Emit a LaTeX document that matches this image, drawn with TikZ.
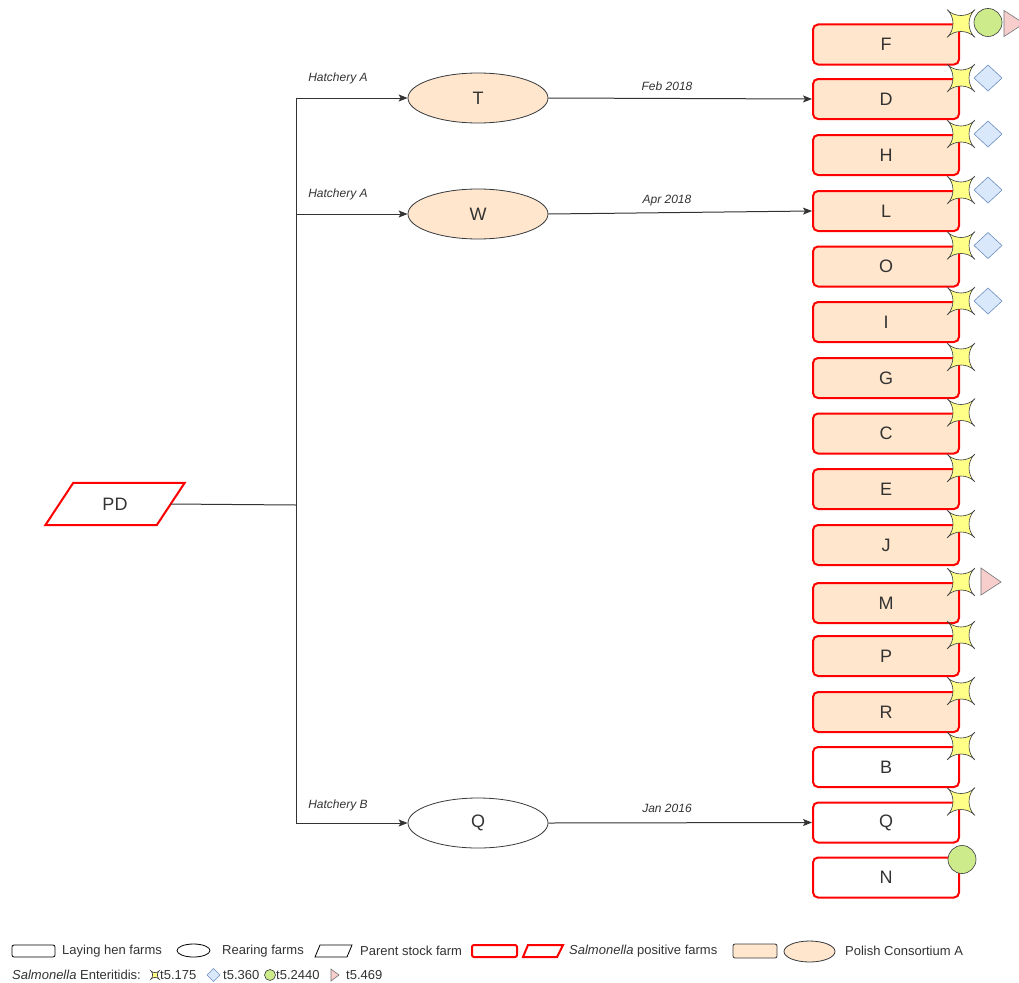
\documentclass[tikz,border=0pt]{standalone}
\usepackage{fontspec}
\setmainfont{Liberation Sans}
\usetikzlibrary{arrows.meta,calc,shapes.geometric}
\definecolor{txt}{HTML}{333333}
\definecolor{peach}{HTML}{FFE6CC}
\definecolor{edgec}{HTML}{36393D}
\definecolor{starY}{HTML}{FFFF88}
\definecolor{circG}{HTML}{CDEB8B}
\definecolor{diaB}{HTML}{DAE8FC}
\definecolor{diaS}{HTML}{6C8EBF}
\definecolor{triP}{HTML}{F8CECC}
\definecolor{linec}{HTML}{333333}
\tikzset{
  farm/.style={draw=red, line width=2, rounded corners=5, minimum width=146, minimum height=40, inner sep=0, font=\fontsize{18}{20}\selectfont, text=txt},
  cons/.style={fill=peach},
  rear/.style={ellipse, draw=edgec, line width=0.8, minimum width=140, minimum height=50, inner sep=0, font=\fontsize{18}{20}\selectfont, text=txt},
  conn/.style={draw=linec, line width=1},
  arr/.style={conn, -{Stealth[length=9,width=7,inset=2]}},
  hlab/.style={font=\fontsize{12}{14}\selectfont\itshape, text=txt, inner sep=0},
  leg/.style={font=\fontsize{13}{15}\selectfont, text=txt, inner sep=0, anchor=west},
  star4/.pic={\draw[fill=starY, draw=edgec, line width=0.6] (-14,-14) .. controls (-7,-6) and (7,-6) .. (14,-14) .. controls (6,-7) and (6,7) .. (14,14) .. controls (7,6) and (-7,6) .. (-14,14) .. controls (-6,7) and (-6,-7) .. (-14,-14) -- cycle;},
  circmark/.style={fill=circG, draw=edgec, line width=0.6},
  diamark/.style={fill=diaB, draw=diaS, line width=0.6},
  trimark/.style={fill=triP, draw=edgec!70, line width=0.6}
}
\newcommand\diamk[2]{\draw[diamark] ($(#1)+(#2-14,0)$) -- ($(#1)+(#2,-13)$) -- ($(#1)+(#2+14,0)$) -- ($(#1)+(#2,13)$) -- cycle;}
\begin{document}
\begin{tikzpicture}[x=1pt,y=-1pt]
\clip (0,0) rectangle (1019,982);
\fill[white] (0,0) rectangle (1019,982);

% parent stock
\node[minimum width=111, minimum height=42, inner sep=0, font=\fontsize{18}{20}\selectfont, text=txt] (PD) at (115,504) {PD};
\draw[red, line width=2] ($(PD.south west)+(-14,0)$) -- ($(PD.south east)+(-14,0)$) -- ($(PD.north east)+(14,0)$) -- ($(PD.north west)+(14,0)$) -- cycle;

% rearing farms
\node[rear, cons] (T) at (478,98) {T};
\node[rear, cons] (W) at (478,214) {W};
\node[rear] (Qr) at (478,823) {Q};

% laying hen farms
\node[farm, cons] (F) at (886,44.5) {F};
\node[farm, cons] (D) at (886,99) {D};
\node[farm, cons] (H) at (886,155) {H};
\node[farm, cons] (L) at (886,211) {L};
\node[farm, cons] (O) at (886,266.5) {O};
\node[farm, cons] (I) at (886,322) {I};
\node[farm, cons] (G) at (886,378) {G};
\node[farm, cons] (C) at (886,433.5) {C};
\node[farm, cons] (E) at (886,489) {E};
\node[farm, cons] (J) at (886,545) {J};
\node[farm, cons] (M) at (886,603) {M};
\node[farm, cons] (P) at (886,656) {P};
\node[farm, cons] (R) at (886,712) {R};
\node[farm] (B) at (886,767) {B};
\node[farm] (Ql) at (886,822.5) {Q};
\node[farm] (N) at (886,877.5) {N};

% trunk
\coordinate (j0) at (296,505);
\coordinate (jT) at (296,98);
\coordinate (jW) at (296,214);
\coordinate (jQ) at (296,823);
\draw[conn] (PD.east) -- (j0);
\draw[conn] (jT) -- (jQ);
\draw[arr] (jT) -- (T.west);
\draw[arr] (jW) -- (W.west);
\draw[arr] (jQ) -- (Qr.west);
\node[hlab] (hA1) at (338,78) {Hatchery A};
\node[hlab] (hA2) at (338,194) {Hatchery A};
\node[hlab] (hB) at (338,805) {Hatchery B};

\draw[arr] (T.east) -- (D.west);
\draw[arr] (W.east) -- (L.west);
\draw[arr] (Qr.east) -- (Ql.west);
\node[hlab] (d1) at (667,86) {Feb 2018};
\node[hlab] (d2) at (667,201) {Apr 2018};
\node[hlab] (d3) at (667,808) {Jan 2016};

% markers
\foreach \b in {F,D,H,L,O,I,G,C,E,J,M,P,R,B,Ql}{
  \pic at ($(\b.north east)+(1,0)$) {star4};
}
\draw[circmark] ($(F.north east)+(28,-1)$) circle[radius=14];
\draw[trimark] ($(F.north east)+(44,-13)$) -- ($(F.north east)+(64,0)$) -- ($(F.north east)+(44,13)$) -- cycle;
\foreach \b in {D,H,L,O,I}{
  \diamk{\b.north east}{28}
}
\draw[trimark] ($(M.north east)+(21,-14)$) -- ($(M.north east)+(41,0)$) -- ($(M.north east)+(21,13)$) -- cycle;
\draw[circmark] ($(N.north east)+(2,3)$) circle[radius=14];

% legend row 1
\draw[black, line width=0.8, rounded corners=2] (12,945) rectangle (55,957);
\node[leg] (l1) at (62,951) {Laying hen farms};
\draw[black, line width=0.8] (193.5,950.5) ellipse[x radius=16.5, y radius=6.5];
\node[leg] (l2) at (222,951) {Rearing farms};
\draw[black, line width=0.8] (315,957) -- (347,957) -- (352,945) -- (320,945) -- cycle;
\node[leg] (l3) at (360,951) {Parent stock farm};
\draw[red, line width=2, rounded corners=2] (472,945) rectangle (517,957);
\draw[red, line width=2] (523,957) -- (557,957) -- (563,945) -- (528,945) -- cycle;
\node[leg] (l4) at (569,951) {\itshape Salmonella\upshape{} positive farms};
\draw[fill=peach, draw=edgec, line width=0.8, rounded corners=2] (733,944) rectangle (777,958);
\draw[fill=peach, draw=edgec, line width=0.8] (809.5,951.5) ellipse[x radius=25.5, y radius=10.5];
\node[leg] (l5) at (845,951) {Polish Consortium A};

% legend row 2
\node[leg] (l6) at (12,975) {\itshape Salmonella\upshape{} Enteritidis:};
\pic[scale=0.3] at (155,975) {star4};
\node[leg] (s1) at (160,975) {t5.175};
\draw[diamark] (207,975) -- (213.5,968.5) -- (220,975) -- (213.5,981.5) -- cycle;
\node[leg] (s2) at (223,975) {t5.360};
\draw[circmark] (270,975) circle[radius=5.5];
\node[leg] (s3) at (276,975) {t5.2440};
\draw[trimark] (331,969) -- (339,975) -- (331,981) -- cycle;
\node[leg] (s4) at (346,975) {t5.469};
\end{tikzpicture}
\end{document}
